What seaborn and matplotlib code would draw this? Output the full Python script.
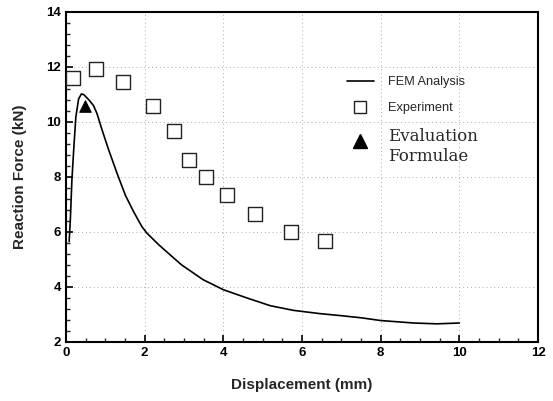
import numpy as np
import pandas as pd
import matplotlib
matplotlib.use("Agg")
import matplotlib.pyplot as plt
from matplotlib.lines import Line2D
from matplotlib.ticker import MultipleLocator
import seaborn as sns

# FEM analysis curve
fem_x = [0.08, 0.11, 0.15, 0.20, 0.25, 0.32, 0.39, 0.45, 0.58, 0.70, 0.79, 0.92, 1.09,
         1.30, 1.51, 1.72, 1.93, 2.06, 2.36, 2.70, 2.94, 3.49, 4.00, 4.60, 5.19, 5.78,
         6.46, 6.97, 7.50, 8.00, 8.84, 9.43, 10.0]
fem_y = [5.65, 6.43, 7.88, 9.08, 10.17, 10.83, 11.01, 10.99, 10.80, 10.59, 10.29, 9.69, 8.96,
         8.12, 7.33, 6.73, 6.19, 5.95, 5.53, 5.10, 4.80, 4.26, 3.90, 3.60, 3.32, 3.15,
         3.03, 2.96, 2.88, 2.78, 2.69, 2.66, 2.69]

# Experiment
exp_x = [0.19, 0.76, 1.46, 2.20, 2.75, 3.12, 3.55, 4.09, 4.81, 5.73, 6.59]
exp_y = [11.58, 11.92, 11.43, 10.58, 9.66, 8.63, 7.98, 7.33, 6.64, 5.99, 5.67]

# Evaluation formulae
eval_x = [0.48]
eval_y = [10.57]

x_ticks = [0, 2, 4, 6, 8, 10, 12]
y_ticks = [2, 4, 6, 8, 10, 12, 14]

sns.set_style("ticks")
plt.rcParams['font.family'] = ['Liberation Sans', 'DejaVu Sans']

fig = plt.figure(figsize=(5.53, 4.01), dpi=100)
ax = fig.add_axes([66/553, 1-342/401, (538-66)/553, (342-11.7)/401])

fem = pd.DataFrame({"x": fem_x, "y": fem_y})
exp = pd.DataFrame({"x": exp_x, "y": exp_y})
ev = pd.DataFrame({"x": eval_x, "y": eval_y})

sns.lineplot(data=fem, x="x", y="y", ax=ax, color="black", linewidth=1.2, sort=False)
sns.scatterplot(data=exp, x="x", y="y", ax=ax, marker="s", s=95,
                facecolor="white", edgecolor="#222222", linewidth=1.0, zorder=3)
sns.scatterplot(data=ev, x="x", y="y", ax=ax, marker="^", s=70,
                color="black", edgecolor="black", zorder=4)

ax.set_xlim(0, 12)
ax.set_ylim(2, 14)
ax.set_xticks(x_ticks)
ax.set_yticks(y_ticks)
ax.set_xticklabels([str(v) for v in x_ticks])
ax.set_yticklabels([str(v) for v in y_ticks])
ax.xaxis.set_minor_locator(MultipleLocator(0.5))
ax.yaxis.set_minor_locator(MultipleLocator(0.4))
ax.tick_params(which="major", direction="in", length=5, width=1.2, labelsize=9.5, colors="black")
ax.tick_params(which="minor", direction="in", length=3, width=1.0)
ax.grid(True, which="major", linestyle=(0, (1, 3)), color="#aaaaaa", linewidth=0.7)
for s in ax.spines.values():
    s.set_linewidth(1.5)
    s.set_color("black")
for lab in ax.get_xticklabels() + ax.get_yticklabels():
    lab.set_fontweight("bold")

ax.set_xlabel("Displacement (mm)", fontsize=11, fontweight="bold", labelpad=14)
ax.set_ylabel("Reaction Force (kN)", fontsize=11, fontweight="bold", labelpad=14)

handles = [
    Line2D([], [], color="black", linewidth=1.2),
    Line2D([], [], marker="s", linestyle="none", markersize=9, markerfacecolor="white",
           markeredgecolor="#222222", markeredgewidth=1.0),
    Line2D([], [], marker="^", linestyle="none", markersize=9.5, color="black"),
]
labels = ["FEM Analysis", "Experiment", "Evaluation\nFormulae"]
leg = ax.legend(handles, labels, loc="upper left", bbox_to_anchor=(0.571, 0.84),
                frameon=False, fontsize=9.2, handlelength=2.1, handletextpad=1.1,
                labelspacing=1.1)
t = leg.get_texts()[2]
t.set_fontfamily("DejaVu Serif")
t.set_fontsize(12)
tri = leg.legend_handles[2]
tri.set_ydata([y + 5.5 for y in tri.get_ydata()])

fig.savefig("out.png", dpi=100)
